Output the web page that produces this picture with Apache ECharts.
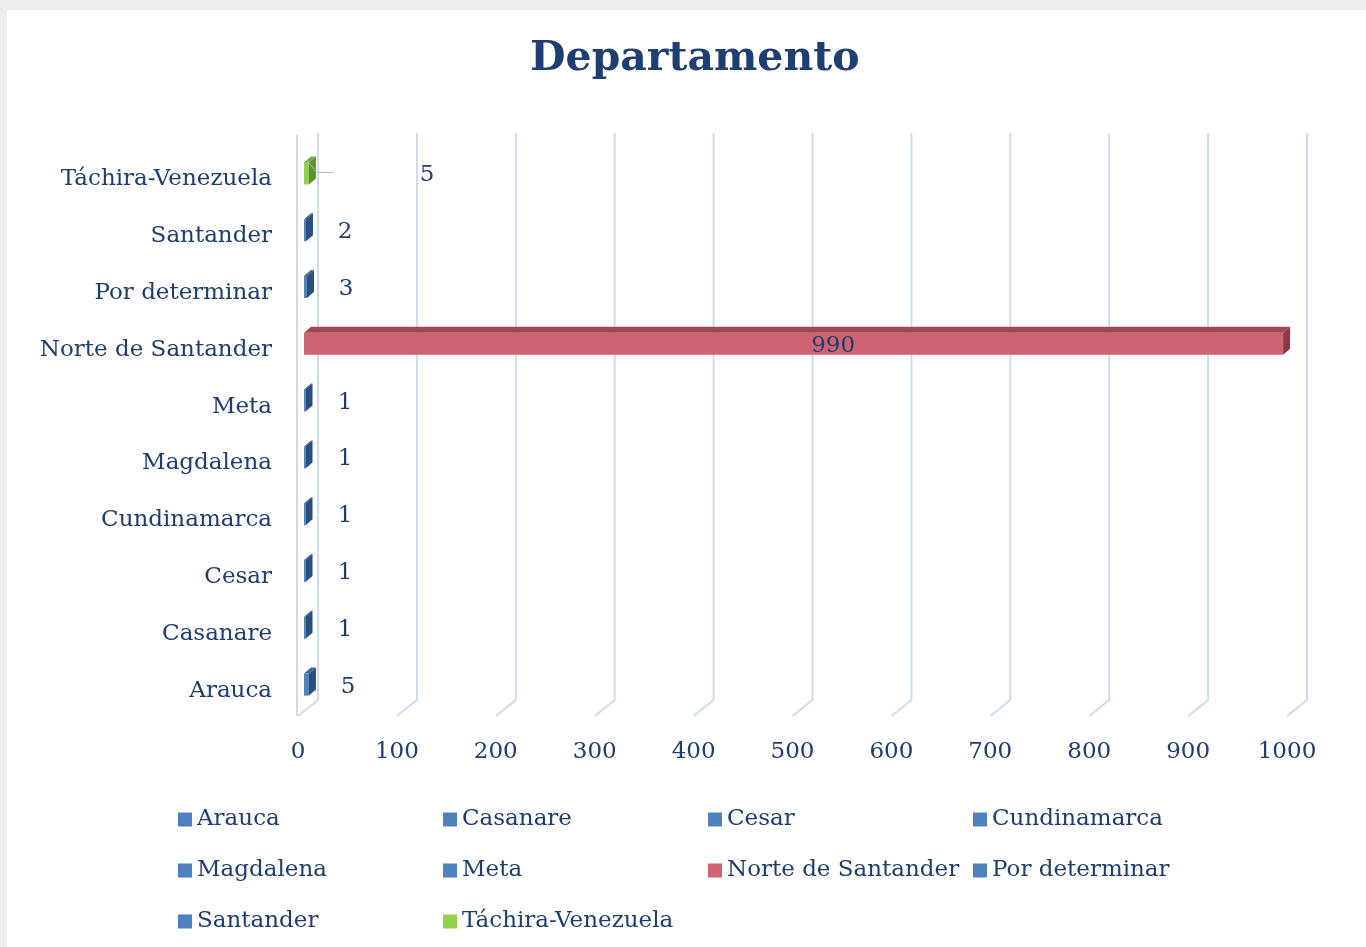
<!DOCTYPE html>
<html>
<head>
<meta charset="utf-8">
<script src="https://cdn.jsdelivr.net/npm/echarts@6/dist/echarts.min.js"></script>
<style>
  html, body { margin: 0; padding: 0; background: #eeeeee; }
  #grafico { position: absolute; left: 7px; top: 10px; width: 1359px; height: 937px; background: #ffffff; }
</style>
</head>
<body>
<div id="grafico"></div>
<script>
// datos del grafico
const categorias = ['Arauca', 'Casanare', 'Cesar', 'Cundinamarca', 'Magdalena', 'Meta',
  'Norte de Santander', 'Por determinar', 'Santander', 'Táchira-Venezuela'];
const valores = [5, 1, 1, 1, 1, 1, 990, 3, 2, 5];
const ticksX = [0, 100, 200, 300, 400, 500, 600, 700, 800, 900, 1000];

// colores (frente, arriba, lado)
const azul = ['#4f81bd', '#3b6699', '#2b4f7c'];
const rojo = ['#cd6373', '#a04856', '#8a3a47'];
const verde = ['#92d050', '#73ab38', '#5f922b'];
const colores = categorias.map(function (c) {
  if (c === 'Norte de Santander') return rojo;
  if (c === 'Táchira-Venezuela') return verde;
  return azul;
});

const fuente = '"DejaVu Serif", serif';
const colorTexto = '#1f3d6e';
// desplazamiento de la etiqueta respecto al final de la barra
const desplazaEtiqueta = { 'Táchira-Venezuela': 124, 'Norte de Santander': -444 };

const contenedor = document.getElementById('grafico');
const miGrafico = echarts.init(contenedor);

function paredes(params, api) {
  const x = api.coord([api.value(0), 0])[0];
  const cs = params.coordSys;
  const top = cs.y - 13, bot = cs.y + cs.height;
  const estilo = { stroke: '#cfdcee', lineWidth: 2, fill: null };
  const hijos = [{
    type: 'polyline',
    shape: { points: [[x + 20, top], [x + 20, bot - 14], [x, bot + 2]] },
    style: estilo
  }];
  if (api.value(0) === 0) {
    hijos.push({ type: 'line', shape: { x1: x - 1, y1: top + 2, x2: x - 1, y2: bot + 2 }, style: estilo });
  }
  return { type: 'group', children: hijos };
}

function barra3d(nombre, col) {
  return function (params, api) {
    const val = api.value(0), cat = api.value(1);
    const p0 = api.coord([0, cat]);
    const p1 = api.coord([val, cat]);
    const h = 22, dx = 7, dy = 6, sh = 6;
    const xL = p0[0] + sh;
    const xR = Math.max(p1[0] + sh, xL + 1.5);
    const yT = p0[1] - h / 2 - 1, yB = p0[1] + h / 2 - 1;
    const dEt = desplazaEtiqueta[nombre] !== undefined ? desplazaEtiqueta[nombre] : 45;
    const hijos = [
      { type: 'rect', shape: { x: xL, y: yT, width: xR - xL, height: h }, style: { fill: col[0] } },
      { type: 'polygon', shape: { points: [[xL, yT], [xL + dx, yT - dy], [xR + dx, yT - dy], [xR, yT]] }, style: { fill: col[1] } },
      { type: 'polygon', shape: { points: [[xR, yT], [xR + dx, yT - dy], [xR + dx, yB - dy], [xR, yB]] }, style: { fill: col[2] } },
      {
        type: 'text', z2: 10,
        style: {
          text: String(val), x: Math.max(p1[0] + dEt, p0[0] + 47), y: p0[1] + 1,
          align: 'center', verticalAlign: 'middle',
          font: '23px ' + fuente, fill: colorTexto
        }
      }
    ];
    if (nombre === 'Táchira-Venezuela') {
      hijos.push({
        type: 'polyline',
        shape: { points: [[xR - 2, yT - 2], [xR + 8, p0[1] - 2], [xR + 24, p0[1] - 2]] },
        style: { stroke: '#9fb8d8', lineWidth: 1, fill: null }
      });
    }
    return { type: 'group', children: hijos };
  };
}

const series = [{
  type: 'custom',
  name: 'paredes',
  renderItem: paredes,
  data: ticksX.map(function (t) { return [t, 0]; }),
  clip: false,
  silent: true,
  z: 1
}];

categorias.forEach(function (c, i) {
  series.push({
    type: 'custom',
    name: c,
    renderItem: barra3d(c, colores[i]),
    data: [[valores[i], i]],
    itemStyle: { color: colores[i][0] },
    clip: false,
    z: 2
  });
});

const option = {
  animation: false,
  title: {
    text: 'Departamento',
    left: 523,
    top: 29,
    padding: 0,
    textStyle: { fontFamily: fuente, fontSize: 41, fontWeight: 'bold', color: '#1f3f73' }
  },
  legend: {
    data: categorias,
    left: 166,
    top: 782,
    width: 1080,
    icon: 'rect',
    itemWidth: 14,
    itemHeight: 14,
    itemGap: 6,
    selectedMode: false,
    textStyle: { fontFamily: fuente, fontSize: 23, color: colorTexto, width: 240, lineHeight: 45 }
  },
  grid: { left: 291, right: 79, top: 136, height: 568 },
  xAxis: {
    type: 'value',
    min: 0,
    max: 1000,
    interval: 100,
    axisLine: { show: false },
    axisTick: { show: false },
    splitLine: { show: false },
    axisLabel: {
      margin: 27, fontFamily: fuente, fontSize: 23, color: colorTexto,
      formatter: function (v) { return String(v); }
    }
  },
  yAxis: {
    type: 'category',
    data: categorias,
    axisLine: { show: false },
    axisTick: { show: false },
    axisLabel: {
      margin: 26,
      formatter: function (v) { return '{c|' + v + '}'; },
      rich: {
        c: { padding: [10, 0, 0, 0], fontFamily: fuente, fontSize: 23, color: colorTexto }
      }
    }
  },
  series: series
};

miGrafico.setOption(option);
</script>
</body>
</html>
